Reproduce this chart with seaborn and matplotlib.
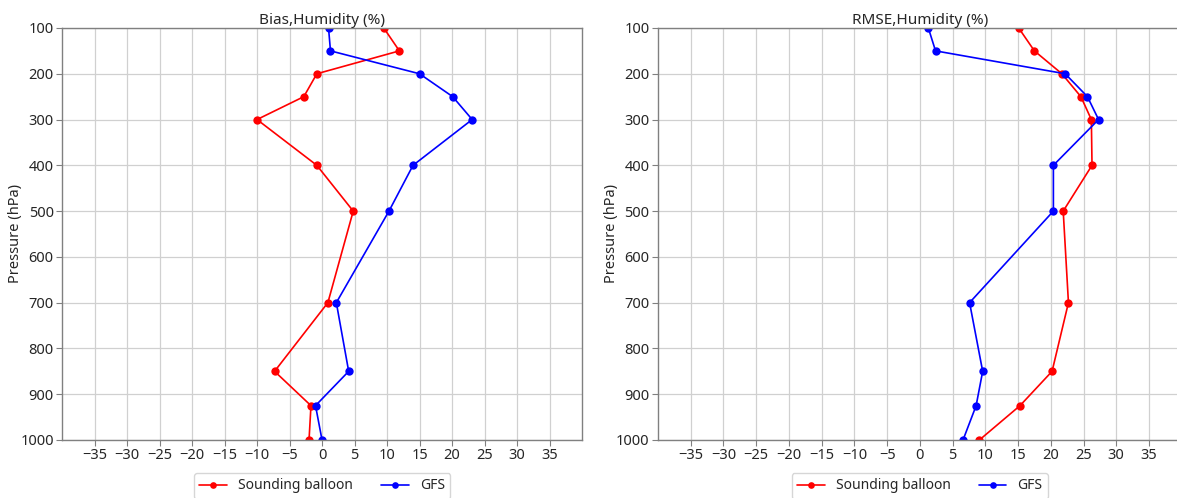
"""
Vertical profiles of humidity bias and RMSE: sounding balloon vs GFS.
"""

import matplotlib
matplotlib.use('Agg')
import matplotlib.pyplot as plt
import seaborn as sns
import numpy as np
import pandas as pd

# pressure levels (hPa)
levels = [100, 150, 200, 250, 300, 400, 500, 700, 850, 925, 1000]

# Bias, humidity (%)
bias_balloon = [9.5, 11.9, -0.8, -2.8, -10.0, -0.8, 4.8, 0.9, -7.3, -1.7, -2.0]
bias_gfs = [1.0, 1.3, 15.0, 20.1, 23.1, 14.0, 10.3, 2.2, 4.1, -1.0, 0.0]

# RMSE, humidity (%)
rmse_balloon = [15.1, 17.5, 21.7, 24.6, 26.2, 26.3, 21.9, 22.7, 20.2, 15.3, 9.1]
rmse_gfs = [1.3, 2.4, 22.2, 25.6, 27.3, 20.4, 20.4, 7.6, 9.6, 8.6, 6.6]

series_names = ['Sounding balloon', 'GFS']
series_colors = ['red', 'blue']
x_ticks = list(range(-35, 40, 5))
y_ticks = list(range(100, 1100, 100))

sns.set_style('whitegrid')
plt.rcParams['font.family'] = ['Noto Sans', 'DejaVu Sans']
plt.rcParams['font.size'] = 10.5


def profile_frame(balloon, gfs):
    rows = []
    for name, vals in zip(series_names, [balloon, gfs]):
        for p, v in zip(levels, vals):
            rows.append({'value': v, 'pressure': p, 'source': name})
    return pd.DataFrame(rows)


fig = plt.figure(figsize=(11.77, 4.98), dpi=100)
ax1 = fig.add_axes([0.0527, 0.1165, 0.4418, 0.8273])
ax2 = fig.add_axes([0.559, 0.1165, 0.445, 0.8273])

panels = [
    (ax1, profile_frame(bias_balloon, bias_gfs), 'Bias,Humidity (%)'),
    (ax2, profile_frame(rmse_balloon, rmse_gfs), 'RMSE,Humidity (%)'),
]

for ax, df, title in panels:
    sns.lineplot(
        data=df, x='value', y='pressure', hue='source',
        palette=dict(zip(series_names, series_colors)),
        sort=False, estimator=None, orient='y',
        marker='o', markersize=6, markeredgewidth=0,
        linewidth=1.2, ax=ax
    )
    ax.set_xlim(-40, 40)
    ax.set_ylim(1000, 100)
    ax.set_xticks(x_ticks)
    ax.set_yticks(y_ticks)
    ax.set_title(title, fontsize=11, pad=3)
    ax.set_xlabel('')
    ax.set_ylabel('Pressure (hPa)', fontsize=10.5)
    ax.yaxis.set_label_coords(-0.075, 0.5)
    ax.grid(True, color='#d0d0d0', linewidth=0.9)
    for spine in ax.spines.values():
        spine.set_color('#808080')
        spine.set_linewidth(1.0)
    ax.tick_params(axis='both', bottom=True, left=True, length=4, width=0.8,
                   color='#808080', labelsize=10.5, pad=2)
    handles, labels = ax.get_legend_handles_labels()
    ax.legend(handles, labels, loc='upper center', bbox_to_anchor=(0.5, -0.063),
              ncol=2, frameon=True, fontsize=10, columnspacing=2.0,
              markerscale=0.8, borderpad=0.4)

plt.savefig('out.png', dpi=100)
plt.close()
